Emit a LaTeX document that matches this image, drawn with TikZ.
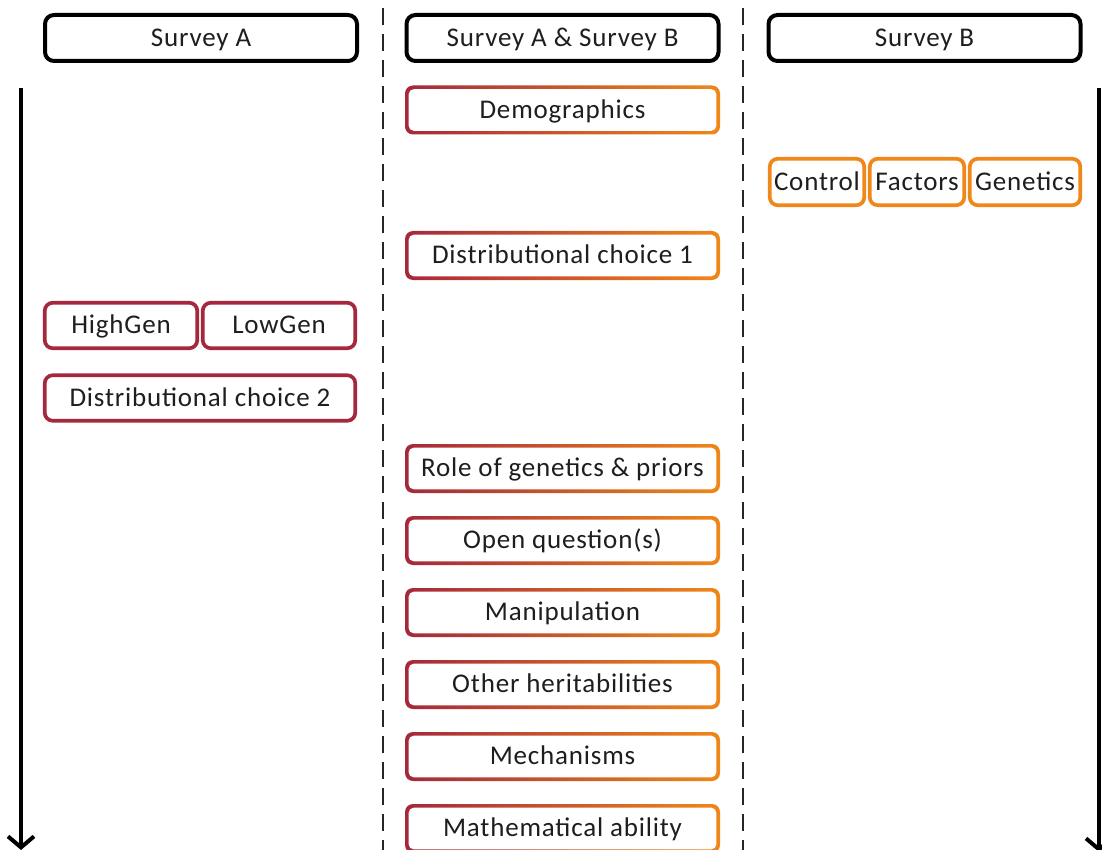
\documentclass[tikz,border=0pt]{standalone}
\usepackage{fontspec}
\setmainfont{Carlito}[LetterSpace=3]
\usetikzlibrary{arrows.meta}
\definecolor{cred}{RGB}{165,40,60}
\definecolor{corange}{RGB}{240,135,25}
\definecolor{ctext}{RGB}{30,30,30}
\tikzset{
  lbl/.style={inner sep=0pt, text=ctext, font=\fontsize{27pt}{32pt}\selectfont,
    text height=20pt, text depth=3.5pt},
  header/.style={lbl, draw=black, line width=4pt, rounded corners=9pt, fill=white,
    minimum width=312pt, minimum height=46pt},
  redbox/.style={lbl, draw=cred, line width=3.7pt, rounded corners=8pt,
    minimum height=45.5pt},
  orbox/.style={lbl, draw=corange, line width=3.7pt, rounded corners=8pt,
    minimum height=46.5pt},
  gbox/.style={lbl, rounded corners=8pt, minimum width=315pt, minimum height=49pt,
    path picture={
      \shade[left color=cred, right color=corange]
        (path picture bounding box.south west) rectangle (path picture bounding box.north east);
      \fill[white, rounded corners=5pt]
        ([shift={(3.7pt,3.7pt)}]path picture bounding box.south west) rectangle
        ([shift={(-3.7pt,-3.7pt)}]path picture bounding box.north east);
    }},
  divider/.style={draw=black!85, line width=2pt, dash pattern=on 17pt off 9pt},
  timearrow/.style={draw=black, line width=4.5pt,
    -{Straight Barb[length=11pt, width=26pt, line width=4pt]}}
}
\begin{document}
\begin{tikzpicture}[x=1pt,y=-1pt]
\useasboundingbox (0,0) rectangle (1102,850);

% dividers
\coordinate (d1t) at (383,8);
\coordinate (d1b) at (383,850);
\coordinate (d2t) at (743,8);
\coordinate (d2b) at (743,850);
\draw[divider] (d1t) -- (d1b);
\draw[divider] (d2t) -- (d2b);

% time arrows
\coordinate (la1) at (21,88);
\coordinate (la2) at (21,850);
\coordinate (ra1) at (1099,88);
\coordinate (ra2) at (1099,852);
\draw[timearrow] (la1) -- (la2);
\draw[timearrow] (ra1) -- (ra2);

% headers
\node[header] (hA) at (201,38) {Survey A};
\node[header] (hAB) at (562.5,38) {Survey A \& Survey B};
\node[header] (hB) at (924.5,38) {Survey B};

% common column
\node[gbox] (demo) at (562.5,110) {Demographics};
\node[gbox] (dc1) at (562.5,255.5) {Distributional choice 1};
\node[gbox] (role) at (562.5,468.5) {Role of genetics \& priors};
\node[gbox] (open) at (562.5,540.5) {Open question(s)};
\node[gbox] (manip) at (562.5,612.5) {Manipulation};
\node[gbox] (other) at (562.5,684.5) {Other heritabilities};
\node[gbox] (mech) at (562.5,756.5) {Mechanisms};
\node[gbox] (math) at (562.5,828.5) {Mathematical ability};

% Survey A column
\node[redbox, minimum width=152.5pt] (high) at (121,325.5) {HighGen};
\node[redbox, minimum width=152.5pt] (low) at (279,325.5) {LowGen};
\node[redbox, minimum width=310.5pt] (dc2) at (200,398) {Distributional choice 2};

% Survey B column
\node[orbox, minimum width=94.5pt] (ctrl) at (817,182) {Control};
\node[orbox, minimum width=94.5pt] (fact) at (917,182) {Factors};
\node[orbox, minimum width=110.5pt] (gen) at (1025,182) {Genetics};
\end{tikzpicture}
\end{document}
